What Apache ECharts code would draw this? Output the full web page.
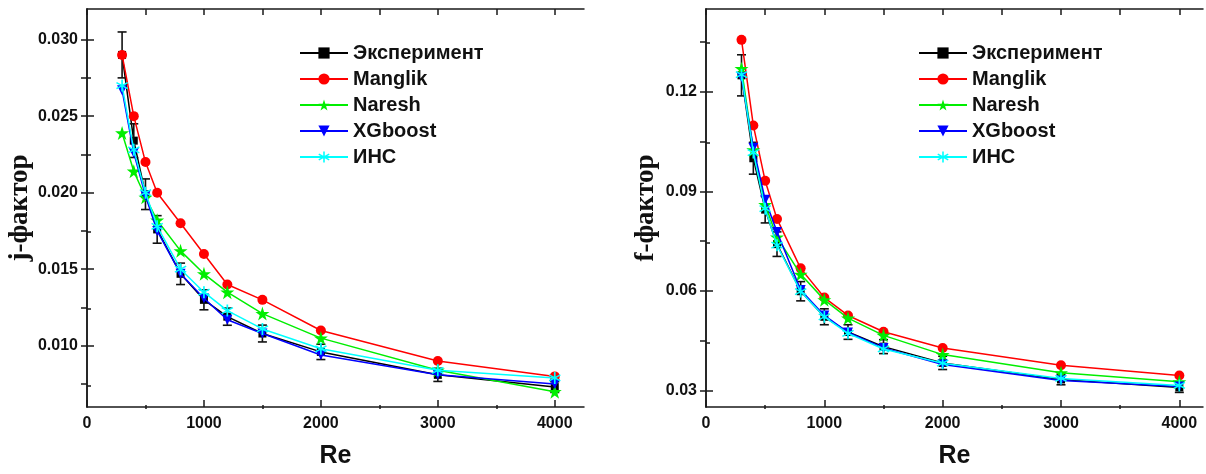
<!DOCTYPE html>
<html>
<head>
<meta charset="utf-8">
<script src="https://cdn.jsdelivr.net/npm/echarts@6/dist/echarts.min.js"></script>
<style>
  html, body { margin: 0; padding: 0; background: #fff; }
  #chart { width: 1206px; height: 474px; }
</style>
</head>
<body>
<div id="chart"></div>
<script>
// Reynolds numbers shared by both panels
const RE = [300, 400, 500, 600, 800, 1000, 1200, 1500, 2000, 3000, 4000];

// Colburn j-factor
const J_EXP     = [0.0290, 0.0234, 0.0199, 0.0176, 0.0147, 0.0130, 0.0119, 0.0108, 0.0096, 0.0081, 0.0073];
const J_EXP_ERR = [0.0015, 0.0011, 0.0010, 0.0009, 0.0007, 0.00065, 0.00056, 0.00055, 0.0005, 0.00043, 0.00035];
const J_MANGLIK = [0.0290, 0.0250, 0.0220, 0.0200, 0.0180, 0.0160, 0.0140, 0.0130, 0.0110, 0.0090, 0.0080];
const J_NARESH  = [0.0239, 0.0214, 0.0197, 0.0182, 0.0162, 0.0147, 0.0135, 0.0121, 0.0105, 0.0084, 0.0070];
const J_XGB     = [0.0267, 0.0226, 0.0198, 0.0175, 0.0147, 0.0131, 0.0117, 0.0108, 0.0094, 0.0081, 0.0075];
const J_INS     = [0.0270, 0.0228, 0.0200, 0.0178, 0.0150, 0.0135, 0.0123, 0.0111, 0.0098, 0.0084, 0.0079];

// Fanning f-factor
const F_EXP     = [0.1250, 0.1000, 0.0845, 0.0741, 0.0599, 0.0522, 0.0476, 0.0432, 0.0383, 0.0333, 0.0309];
const F_EXP_ERR = [0.0062, 0.0048, 0.0040, 0.0037, 0.0029, 0.0024, 0.0022, 0.0021, 0.0020, 0.0016, 0.0015];
const F_MANGLIK = [0.1357, 0.1099, 0.0932, 0.0817, 0.0668, 0.0580, 0.0526, 0.0477, 0.0428, 0.0376, 0.0345];
const F_NARESH  = [0.1270, 0.1025, 0.0860, 0.0762, 0.0650, 0.0573, 0.0518, 0.0466, 0.0408, 0.0353, 0.0326];
const F_XGB     = [0.1244, 0.1032, 0.0875, 0.0778, 0.0603, 0.0526, 0.0475, 0.0428, 0.0378, 0.0330, 0.0312];
const F_INS     = [0.1252, 0.1017, 0.0848, 0.0738, 0.0598, 0.0522, 0.0472, 0.0425, 0.0382, 0.0336, 0.0315];

// Tick positions
const RE_TICKS = [0, 1000, 2000, 3000, 4000];
const RE_MINOR = [500, 1500, 2500, 3500];
const J_TICKS = [0.010, 0.015, 0.020, 0.025, 0.030];
const J_MINOR = [0.0075, 0.0125, 0.0175, 0.0225, 0.0275];
const F_TICKS = [0.03, 0.06, 0.09, 0.12];
const F_MINOR = [0.045, 0.075, 0.105, 0.135];

const SERIES_NAMES = ['Эксперимент', 'Manglik', 'Naresh', 'XGboost', 'ИНС'];

const SANS = 'Liberation Sans, Arial, sans-serif';
const SERIF = 'Liberation Serif, Times New Roman, serif';
const AXIS_COLOR = '#1a1a1a';

const STAR = 'path://M0,-100 L22.45,-30.9 L95.1,-30.9 L36.33,11.8 L58.78,80.9 L0,38.2 L-58.78,80.9 L-36.33,11.8 L-95.1,-30.9 L-22.45,-30.9 Z';
const ASTERISK = 'path://M-1.3,-10 L1.3,-10 L1.3,10 L-1.3,10 Z ' +
  'M-9.26,-3.96 L-8.06,-6.04 L9.26,3.96 L8.06,6.04 Z ' +
  'M-8.06,6.04 L-9.26,3.96 L8.06,-6.04 L9.26,-3.96 Z';

const grids = [], xAxes = [], yAxes = [], series = [], legends = [];

function sortedTicks(a, b) { return a.concat(b).sort((p, q) => p - q); }

function panel(p) {
  const g = grids.length;
  // main grid and an overlay grid carrying the short minor ticks
  grids.push({ left: p.left, top: 9, width: 497, height: 400 });
  grids.push({ left: p.left, top: 9, width: 497, height: 400 });

  const xMain = xAxes.length;
  xAxes.push({
    gridIndex: g, type: 'value', position: 'bottom', min: 0, max: p.xMax,
    axisLine: { show: true, lineStyle: { color: AXIS_COLOR, width: 1.5 } },
    axisTick: { show: true, inside: true, length: 7, customValues: RE_TICKS, lineStyle: { color: AXIS_COLOR, width: 1.5 } },
    axisLabel: {
      customValues: RE_TICKS, margin: 9, color: '#111', fontFamily: SANS, fontWeight: 'bold', fontSize: 16,
      formatter: v => String(Math.round(v))
    },
    splitLine: { show: false },
    name: 'Re', nameLocation: 'middle', nameGap: 37,
    nameTextStyle: { fontFamily: SANS, fontWeight: 'bold', fontSize: 25, color: '#111' }
  });
  xAxes.push({
    gridIndex: g, type: 'value', position: 'top', min: 0, max: p.xMax,
    axisLine: { show: true, lineStyle: { color: AXIS_COLOR, width: 1.5 } },
    axisTick: { show: true, inside: true, length: 6, customValues: sortedTicks(RE_TICKS, RE_MINOR), lineStyle: { color: AXIS_COLOR, width: 1.5 } },
    axisLabel: { show: false }, splitLine: { show: false }
  });
  xAxes.push({
    gridIndex: g + 1, type: 'value', position: 'bottom', min: 0, max: p.xMax,
    axisLine: { show: false },
    axisTick: { show: true, inside: true, length: 4, customValues: RE_MINOR, lineStyle: { color: AXIS_COLOR, width: 1.5 } },
    axisLabel: { show: false }, splitLine: { show: false }
  });

  const yMain = yAxes.length;
  yAxes.push({
    gridIndex: g, type: 'value', position: 'left', min: p.yMin, max: p.yMax,
    axisLine: { show: true, lineStyle: { color: AXIS_COLOR, width: 1.5 } },
    axisTick: { show: true, inside: true, length: 7, customValues: p.yTicks, lineStyle: { color: AXIS_COLOR, width: 1.5 } },
    axisLabel: {
      customValues: p.yTicks, margin: 9, color: '#111', fontFamily: SANS, fontWeight: 'bold', fontSize: 16,
      formatter: v => Number(v).toFixed(p.digits)
    },
    splitLine: { show: false },
    name: p.yName, nameLocation: 'middle', nameGap: p.nameGap,
    nameTextStyle: { fontFamily: SERIF, fontWeight: 'bold', fontSize: 27, color: '#111' }
  });
  yAxes.push({
    gridIndex: g, type: 'value', position: 'right', min: p.yMin, max: p.yMax,
    axisLine: { show: true, lineStyle: { color: AXIS_COLOR, width: 1.5 } },
    axisTick: { show: true, inside: true, length: 6, customValues: sortedTicks(p.yTicks, p.yMinor), lineStyle: { color: AXIS_COLOR, width: 1.5 } },
    axisLabel: { show: false }, splitLine: { show: false }
  });
  yAxes.push({
    gridIndex: g + 1, type: 'value', position: 'left', min: p.yMin, max: p.yMax,
    axisLine: { show: false },
    axisTick: { show: true, inside: true, length: 4, customValues: p.yMinor, lineStyle: { color: AXIS_COLOR, width: 1.5 } },
    axisLabel: { show: false }, splitLine: { show: false }
  });

  const pts = arr => RE.map((r, i) => [r, arr[i]]);
  const line = (name, arr, color, symbol, size, extra) => Object.assign({
    name, type: 'line', xAxisIndex: xMain, yAxisIndex: yMain,
    data: pts(arr), symbol, symbolSize: size,
    lineStyle: { color, width: 1.5 },
    itemStyle: { color, borderWidth: 0 },
    emphasis: { disabled: true }
  }, extra || {});

  series.push(line(SERIES_NAMES[0], p.exp, '#000000', 'rect', 8, { z: 2 }));
  series.push({
    type: 'custom', name: 'err', xAxisIndex: xMain, yAxisIndex: yMain, z: 3,
    data: RE.map((r, i) => [r, p.exp[i], p.err[i]]),
    encode: { x: 0, y: 1 },
    renderItem: (params, api) => {
      const x = api.value(0), y = api.value(1), e = api.value(2);
      const a = api.coord([x, y + e]);
      const b = api.coord([x, y - e]);
      const w = 4.5;
      const st = { stroke: '#111', lineWidth: 1.6 };
      return {
        type: 'group', children: [
          { type: 'line', shape: { x1: a[0], y1: a[1], x2: b[0], y2: b[1] }, style: st },
          { type: 'line', shape: { x1: a[0] - w, y1: a[1], x2: a[0] + w, y2: a[1] }, style: st },
          { type: 'line', shape: { x1: b[0] - w, y1: b[1], x2: b[0] + w, y2: b[1] }, style: st }
        ]
      };
    }
  });
  series.push(line(SERIES_NAMES[1], p.manglik, '#ff0000', 'circle', 10, { z: 4 }));
  series.push(line(SERIES_NAMES[2], p.naresh, '#00ee00', STAR, 14, { z: 5 }));
  series.push(line(SERIES_NAMES[3], p.xgb, '#0000ff', 'triangle', 10, { z: 6, symbolRotate: 180 }));
  series.push(line(SERIES_NAMES[4], p.ins, '#00ffff', ASTERISK, 12, { z: 7 }));

  legends.push({
    left: p.legendLeft, top: 43, orient: 'vertical', padding: 0,
    data: SERIES_NAMES, selectedMode: false,
    itemWidth: 48, itemHeight: 14, itemGap: 6,
    textStyle: { fontFamily: SANS, fontWeight: 'bold', fontSize: 20, color: '#111' }
  });
}

panel({
  left: 87, xMax: 4250, yMin: 0.006, yMax: 0.032,
  yTicks: J_TICKS, yMinor: J_MINOR, digits: 3,
  yName: 'j-фактор', nameGap: 53, legendLeft: 299,
  exp: J_EXP, err: J_EXP_ERR, manglik: J_MANGLIK, naresh: J_NARESH, xgb: J_XGB, ins: J_INS
});
panel({
  left: 706, xMax: 4200, yMin: 0.025, yMax: 0.145,
  yTicks: F_TICKS, yMinor: F_MINOR, digits: 2,
  yName: 'f-фактор', nameGap: 46, legendLeft: 918,
  exp: F_EXP, err: F_EXP_ERR, manglik: F_MANGLIK, naresh: F_NARESH, xgb: F_XGB, ins: F_INS
});

const chart = echarts.init(document.getElementById('chart'), null, { renderer: 'canvas' });
chart.setOption({
  animation: false,
  backgroundColor: '#ffffff',
  grid: grids,
  xAxis: xAxes,
  yAxis: yAxes,
  legend: legends,
  series: series
});
</script>
</body>
</html>
